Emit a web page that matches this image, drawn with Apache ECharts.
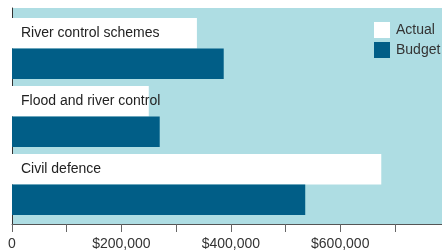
<!DOCTYPE html>
<html>
<head>
<meta charset="utf-8">
<script src="https://cdn.jsdelivr.net/npm/echarts@6/dist/echarts.min.js"></script>
<style>
  html, body { margin: 0; padding: 0; background: #fff; }
  #chart { width: 442px; height: 252px; }
</style>
</head>
<body>
<div id="chart"></div>
<script>
var categories = ['River control schemes', 'Flood and river control', 'Civil defence'];
var actual = [338000, 250000, 675000];
var budget = [387000, 270000, 536000];
var labelledTicks = [0, 200000, 400000, 600000];
var xMax = 786000;

function money(v) {
  if (v === 0) return '0';
  return '$' + v.toString().replace(/\B(?=(\d{3})+(?!\d))/g, ',');
}

var chart = echarts.init(document.getElementById('chart'));
chart.setOption({
  animation: false,
  textStyle: { fontFamily: 'Liberation Sans, Arial, sans-serif' },
  legend: {
    orient: 'vertical',
    left: 374,
    top: 22,
    padding: 0,
    itemWidth: 16,
    itemHeight: 16,
    itemGap: 4,
    icon: 'rect',
    textStyle: { fontSize: 14, color: '#333', padding: [0, 0, 0, 1] },
    data: ['Actual', 'Budget']
  },
  // grid 0: background + axes, grid 1: the bars themselves
  grid: [
    { left: 12, right: 0, top: 8, bottom: 28, show: true, backgroundColor: '#aedde3', borderWidth: 0 },
    { left: 12, right: 0, top: 14.5, bottom: 33.5 }
  ],
  xAxis: [
    {
      gridIndex: 0,
      type: 'value',
      min: 0,
      max: xMax,
      interval: 100000,
      splitLine: { show: false },
      axisLine: { show: true, lineStyle: { color: '#555', width: 1 } },
      axisTick: { show: true, length: 8, lineStyle: { color: '#666' } },
      axisLabel: {
        fontSize: 14,
        color: '#333',
        margin: 13,
        showMaxLabel: false,
        formatter: function (v) {
          return labelledTicks.indexOf(v) >= 0 ? money(v) : '';
        }
      }
    },
    {
      gridIndex: 1,
      type: 'value',
      min: 0,
      max: xMax,
      show: false
    }
  ],
  yAxis: [
    {
      gridIndex: 0,
      type: 'value',
      min: 0,
      max: 1,
      axisLine: { show: true, lineStyle: { color: '#333', width: 1 } },
      axisTick: { show: false },
      axisLabel: { show: false },
      splitLine: { show: false }
    },
    {
      gridIndex: 1,
      type: 'category',
      inverse: true,
      data: categories,
      show: false
    }
  ],
  series: [
    {
      name: 'Actual',
      type: 'bar',
      xAxisIndex: 1,
      yAxisIndex: 1,
      data: actual,
      barGap: '0%',
      barCategoryGap: '10%',
      itemStyle: { color: '#ffffff' },
      label: {
        show: true,
        position: 'insideLeft',
        distance: 9,
        formatter: '{b}',
        fontSize: 14,
        color: '#222'
      }
    },
    {
      name: 'Budget',
      type: 'bar',
      xAxisIndex: 1,
      yAxisIndex: 1,
      data: budget,
      barGap: '0%',
      barCategoryGap: '10%',
      itemStyle: { color: '#015e87' }
    }
  ]
});
</script>
</body>
</html>
